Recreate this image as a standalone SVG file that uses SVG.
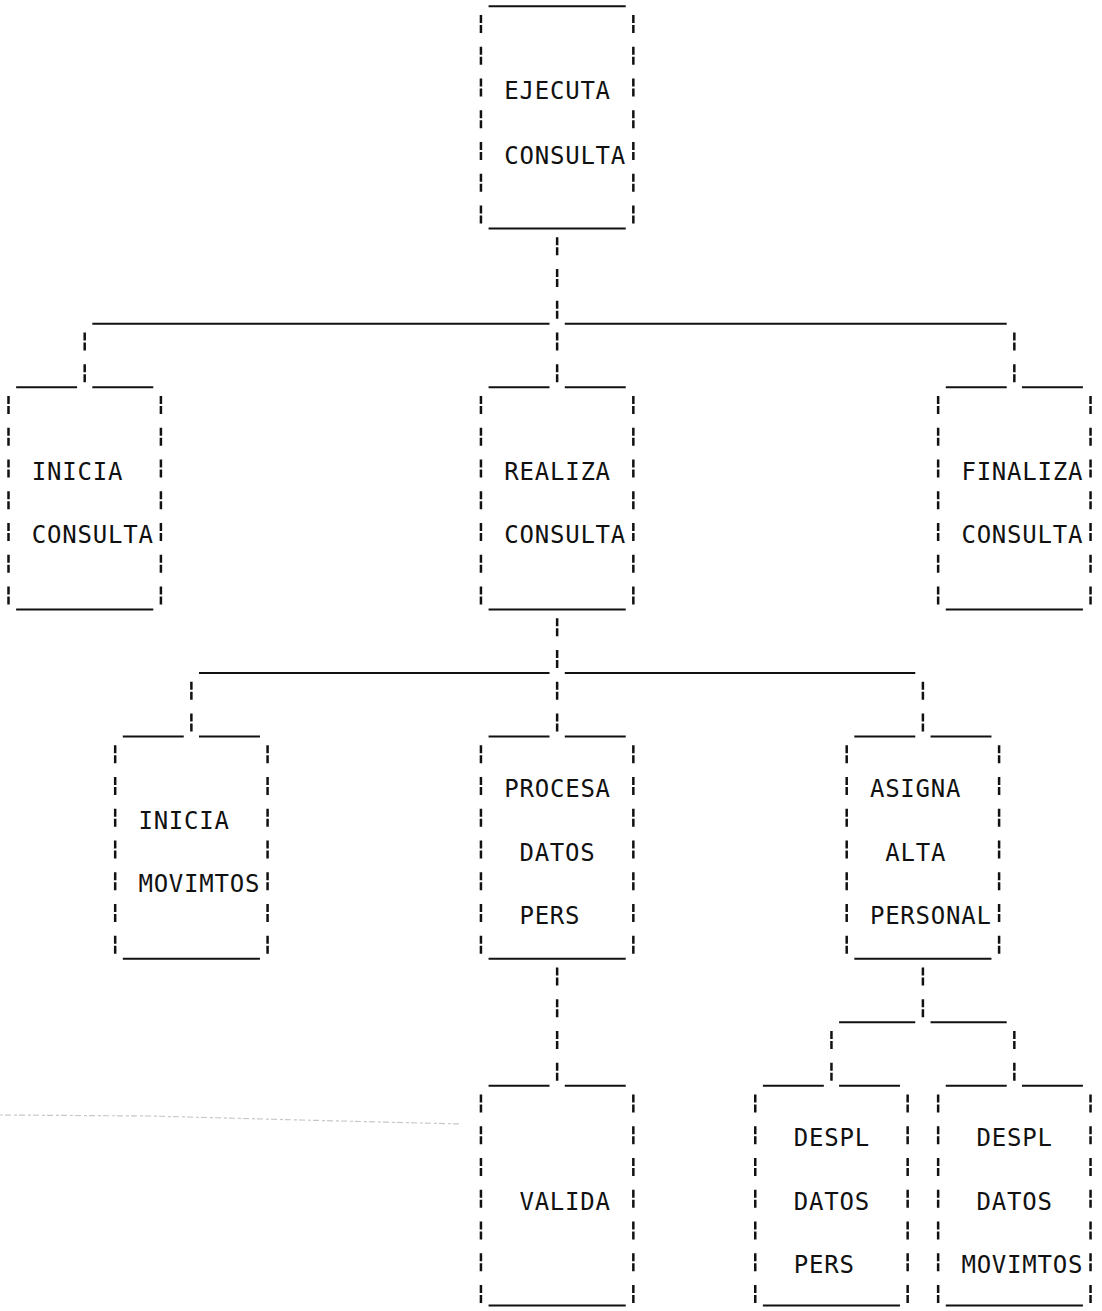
<svg xmlns="http://www.w3.org/2000/svg" width="1102" height="1311" viewBox="0 0 1102 1311">
  <style>
    .bg { fill: #ffffff; }
    /* printed "¦" column: two short ticks per text row, row pitch 31.75 */
    .v { stroke: #111; stroke-width: 2.5; stroke-dasharray: 8 2 8 13.75; fill: none; }
    /* printed underscore runs */
    .h { stroke: #111; stroke-width: 2; fill: none; }
    /* character cells are 15.24 px wide */
    .t { font-family: "DejaVu Sans Mono", "Liberation Mono", monospace; font-size: 24px; letter-spacing: 0.79px; fill: #111; }
    .scan { stroke: #c8c8c8; stroke-width: 1.2; stroke-dasharray: 3 2 6 3; fill: none; }
  </style>
  <rect class="bg" x="0" y="0" width="1102" height="1311"/>

  <!-- faint paper mark on the left -->
  <path class="scan" d="M0 1115 L150 1116 L300 1120 L460 1124"/>

  <g id="connectors">
    <!-- EJECUTA -> level 1 -->
    <line class="v" x1="557.14" y1="237.25" x2="557.14" y2="318.75"/>
    <line class="h" x1="92.32" y1="323.65" x2="549.52" y2="323.65"/>
    <line class="h" x1="564.76" y1="323.65" x2="1006.72" y2="323.65"/>
    <line class="v" x1="84.7" y1="332.5" x2="84.7" y2="382.25"/>
    <line class="v" x1="557.14" y1="332.5" x2="557.14" y2="382.25"/>
    <line class="v" x1="1014.34" y1="332.5" x2="1014.34" y2="382.25"/>

    <!-- REALIZA -> level 2 -->
    <line class="v" x1="557.14" y1="618.25" x2="557.14" y2="668"/>
    <line class="h" x1="199" y1="672.9" x2="549.52" y2="672.9"/>
    <line class="h" x1="564.76" y1="672.9" x2="915.28" y2="672.9"/>
    <line class="v" x1="191.38" y1="681.75" x2="191.38" y2="731.5"/>
    <line class="v" x1="557.14" y1="681.75" x2="557.14" y2="731.5"/>
    <line class="v" x1="922.9" y1="681.75" x2="922.9" y2="731.5"/>

    <!-- PROCESA -> VALIDA -->
    <line class="v" x1="557.14" y1="967.5" x2="557.14" y2="1080.75"/>

    <!-- ASIGNA -> DESPL pair -->
    <line class="v" x1="922.9" y1="967.5" x2="922.9" y2="1017.25"/>
    <line class="h" x1="839.08" y1="1022.15" x2="915.28" y2="1022.15"/>
    <line class="h" x1="930.52" y1="1022.15" x2="1006.72" y2="1022.15"/>
    <line class="v" x1="831.46" y1="1031" x2="831.46" y2="1080.75"/>
    <line class="v" x1="1014.34" y1="1031" x2="1014.34" y2="1080.75"/>
  </g>

  <g id="ejecuta-consulta">
    <line class="h" x1="488.56" y1="6.15" x2="625.72" y2="6.15"/>
    <line class="h" x1="488.56" y1="228.4" x2="625.72" y2="228.4"/>
    <line class="v" x1="480.94" y1="15" x2="480.94" y2="223.5"/>
    <line class="v" x1="633.34" y1="15" x2="633.34" y2="223.5"/>
    <text class="t" x="504.2" y="99">EJECUTA</text>
    <text class="t" x="504.2" y="164">CONSULTA</text>
  </g>

  <g id="inicia-consulta">
    <line class="h" x1="16.12" y1="387.15" x2="77.08" y2="387.15"/>
    <line class="h" x1="92.32" y1="387.15" x2="153.28" y2="387.15"/>
    <line class="h" x1="16.12" y1="609.4" x2="153.28" y2="609.4"/>
    <line class="v" x1="8.5" y1="396" x2="8.5" y2="604.5"/>
    <line class="v" x1="160.9" y1="396" x2="160.9" y2="604.5"/>
    <text class="t" x="31.8" y="479.5">INICIA</text>
    <text class="t" x="31.8" y="543">CONSULTA</text>
  </g>

  <g id="realiza-consulta">
    <line class="h" x1="488.56" y1="387.15" x2="549.52" y2="387.15"/>
    <line class="h" x1="564.76" y1="387.15" x2="625.72" y2="387.15"/>
    <line class="h" x1="488.56" y1="609.4" x2="625.72" y2="609.4"/>
    <line class="v" x1="480.94" y1="396" x2="480.94" y2="604.5"/>
    <line class="v" x1="633.34" y1="396" x2="633.34" y2="604.5"/>
    <text class="t" x="504.2" y="479.5">REALIZA</text>
    <text class="t" x="504.2" y="543">CONSULTA</text>
  </g>

  <g id="finaliza-consulta">
    <line class="h" x1="945.76" y1="387.15" x2="1006.72" y2="387.15"/>
    <line class="h" x1="1021.96" y1="387.15" x2="1082.92" y2="387.15"/>
    <line class="h" x1="945.76" y1="609.4" x2="1082.92" y2="609.4"/>
    <line class="v" x1="938.14" y1="396" x2="938.14" y2="604.5"/>
    <line class="v" x1="1090.54" y1="396" x2="1090.54" y2="604.5"/>
    <text class="t" x="961.4" y="479.5">FINALIZA</text>
    <text class="t" x="961.4" y="543">CONSULTA</text>
  </g>

  <g id="inicia-movimtos">
    <line class="h" x1="122.8" y1="736.4" x2="183.76" y2="736.4"/>
    <line class="h" x1="199" y1="736.4" x2="259.96" y2="736.4"/>
    <line class="h" x1="122.8" y1="958.65" x2="259.96" y2="958.65"/>
    <line class="v" x1="115.18" y1="745.25" x2="115.18" y2="953.75"/>
    <line class="v" x1="267.58" y1="745.25" x2="267.58" y2="953.75"/>
    <text class="t" x="138.4" y="828.75">INICIA</text>
    <text class="t" x="138.4" y="892.25">MOVIMTOS</text>
  </g>

  <g id="procesa-datos-pers">
    <line class="h" x1="488.56" y1="736.4" x2="549.52" y2="736.4"/>
    <line class="h" x1="564.76" y1="736.4" x2="625.72" y2="736.4"/>
    <line class="h" x1="488.56" y1="958.65" x2="625.72" y2="958.65"/>
    <line class="v" x1="480.94" y1="745.25" x2="480.94" y2="953.75"/>
    <line class="v" x1="633.34" y1="745.25" x2="633.34" y2="953.75"/>
    <text class="t" x="504.2" y="797">PROCESA</text>
    <text class="t" x="519.4" y="860.5">DATOS</text>
    <text class="t" x="519.4" y="924">PERS</text>
  </g>

  <g id="asigna-alta-personal">
    <line class="h" x1="854.32" y1="736.4" x2="915.28" y2="736.4"/>
    <line class="h" x1="930.52" y1="736.4" x2="991.48" y2="736.4"/>
    <line class="h" x1="854.32" y1="958.65" x2="991.48" y2="958.65"/>
    <line class="v" x1="846.7" y1="745.25" x2="846.7" y2="953.75"/>
    <line class="v" x1="999.1" y1="745.25" x2="999.1" y2="953.75"/>
    <text class="t" x="869.9" y="797">ASIGNA</text>
    <text class="t" x="885.2" y="860.5">ALTA</text>
    <text class="t" x="869.9" y="924">PERSONAL</text>
  </g>

  <g id="valida">
    <line class="h" x1="488.56" y1="1085.65" x2="549.52" y2="1085.65"/>
    <line class="h" x1="564.76" y1="1085.65" x2="625.72" y2="1085.65"/>
    <line class="h" x1="488.56" y1="1305.5" x2="625.72" y2="1305.5"/>
    <line class="v" x1="480.94" y1="1094.5" x2="480.94" y2="1303"/>
    <line class="v" x1="633.34" y1="1094.5" x2="633.34" y2="1303"/>
    <text class="t" x="519.4" y="1209.75">VALIDA</text>
  </g>

  <g id="despl-datos-pers">
    <line class="h" x1="762.88" y1="1085.65" x2="823.84" y2="1085.65"/>
    <line class="h" x1="839.08" y1="1085.65" x2="900.04" y2="1085.65"/>
    <line class="h" x1="762.88" y1="1305.5" x2="900.04" y2="1305.5"/>
    <line class="v" x1="755.26" y1="1094.5" x2="755.26" y2="1303"/>
    <line class="v" x1="907.66" y1="1094.5" x2="907.66" y2="1303"/>
    <text class="t" x="793.8" y="1146.25">DESPL</text>
    <text class="t" x="793.8" y="1209.75">DATOS</text>
    <text class="t" x="793.8" y="1273.25">PERS</text>
  </g>

  <g id="despl-datos-movimtos">
    <line class="h" x1="945.76" y1="1085.65" x2="1006.72" y2="1085.65"/>
    <line class="h" x1="1021.96" y1="1085.65" x2="1082.92" y2="1085.65"/>
    <line class="h" x1="945.76" y1="1305.5" x2="1082.92" y2="1305.5"/>
    <line class="v" x1="938.14" y1="1094.5" x2="938.14" y2="1303"/>
    <line class="v" x1="1090.54" y1="1094.5" x2="1090.54" y2="1303"/>
    <text class="t" x="976.6" y="1146.25">DESPL</text>
    <text class="t" x="976.6" y="1209.75">DATOS</text>
    <text class="t" x="961.4" y="1273.25">MOVIMTOS</text>
  </g>
</svg>
